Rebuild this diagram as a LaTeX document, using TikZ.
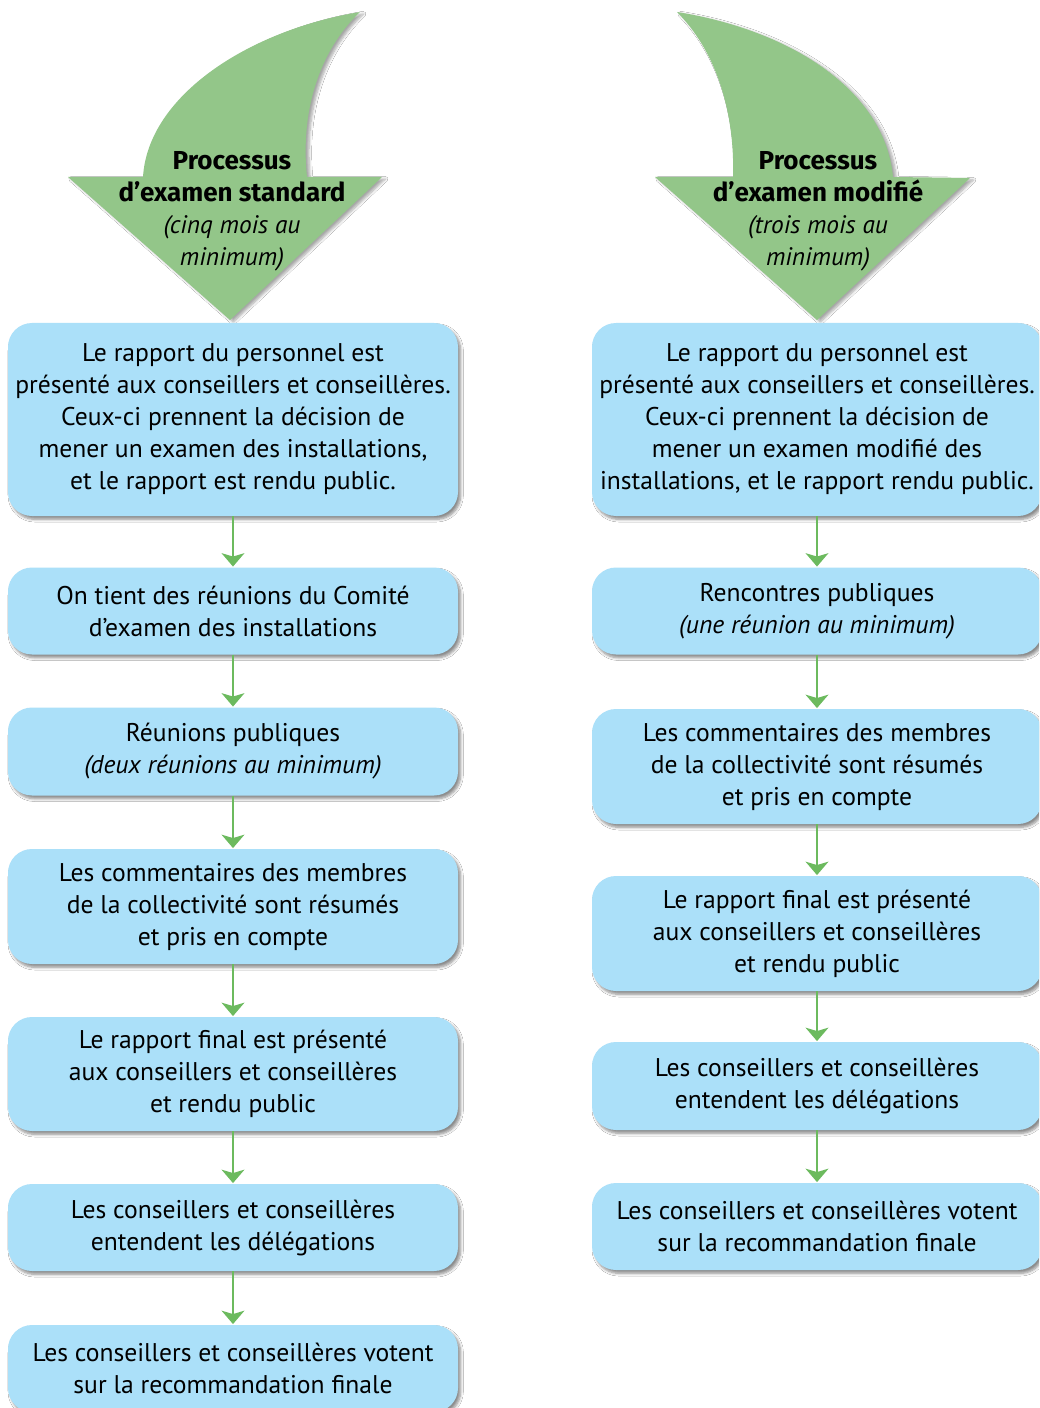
\documentclass[tikz,border=0pt]{standalone}
\usepackage{fontspec}
\setmainfont{PT Sans}
\newfontfamily\hdrfont{Fira Sans}
\usetikzlibrary{shadows.blur,arrows.meta}
\definecolor{boxblue}{RGB}{171,224,249}
\definecolor{hdrgreen}{RGB}{147,198,137}
\definecolor{lnkgreen}{RGB}{108,186,94}
\tikzset{
  stepbox/.style={rectangle, rounded corners=18pt, fill=boxblue, minimum width=337.5pt,
    inner sep=0pt, align=center, font=\fontsize{19.2}{24}\selectfont,
    blur shadow={shadow xshift=2pt, shadow yshift=-2.5pt, shadow blur steps=6, shadow opacity=45}},
  hdrshape/.style={fill=hdrgreen,
    blur shadow={shadow xshift=2.5pt, shadow yshift=-1.5pt, shadow blur steps=6, shadow opacity=35}},
  hdrtext/.style={align=center, inner sep=0pt, font=\fontsize{19}{24}\selectfont},
  conn/.style={draw=lnkgreen, line width=2pt, -{Stealth[length=10pt, width=17pt, inset=2.5pt]}, shorten >=0.5pt}
}
\newcommand{\hb}[1]{{\hdrfont\bfseries\fontsize{19.5}{24}\selectfont #1}}
\begin{document}
\begin{tikzpicture}[x=0.75pt, y=-0.75pt]
\clip (0,0) rectangle (1039,1408);
\fill[white] (0,0) rectangle (1039,1408);

% header arrows
\path[hdrshape] (68,177) -- (143,177) .. controls (148,95) and (250,30) .. (360,12)
  .. controls (320,50) and (300,110) .. (307,177) -- (382,177) -- (230,320) -- cycle;
\path[hdrshape] (655,177) -- (733,177) .. controls (735,110) and (715,50) .. (677,12)
  .. controls (790,30) and (885,90) .. (893,177) -- (970,178) -- (817,320) -- cycle;

\node[hdrtext] (hl) at (232,211) {\hb{Processus}\\\hb{d’examen standard}\\\textit{(cinq mois au}\\\textit{minimum)}};
\node[hdrtext] (hr) at (818,211) {\hb{Processus}\\\hb{d’examen modifié}\\\textit{(trois mois au}\\\textit{minimum)}};

% left column
\node[stepbox, minimum height=144.75pt] (l1) at (233,419.5) {Le rapport du personnel est\\présenté aux conseillers et conseillères.\\Ceux-ci prennent la décision de\\mener un examen des installations,\\et le rapport est rendu public.};
\node[stepbox, minimum height=65.25pt] (l2) at (233,611) {On tient des réunions du Comité\\d’examen des installations};
\node[stepbox, minimum height=66pt] (l3) at (233,751.5) {Réunions publiques\\\textit{(deux réunions au minimum)}};
\node[stepbox, minimum height=86.25pt] (l4) at (233,906.5) {Les commentaires des membres\\de la collectivité sont résumés\\et pris en compte};
\node[stepbox, minimum height=85.5pt] (l5) at (233,1074) {Le rapport final est présenté\\aux conseillers et conseillères\\et rendu public};
\node[stepbox, minimum height=65.25pt] (l6) at (233,1227.5) {Les conseillers et conseillères\\entendent les délégations};
\node[stepbox, minimum height=65.25pt] (l7) at (233,1368.5) {Les conseillers et conseillères votent\\sur la recommandation finale};

% right column
\node[stepbox, minimum height=144.75pt] (r1) at (817,419.5) {Le rapport du personnel est\\présenté aux conseillers et conseillères.\\Ceux-ci prennent la décision de\\mener un examen modifié des\\installations, et le rapport rendu public.};
\node[stepbox, minimum height=65.25pt] (r2) at (817,611) {Rencontres publiques\\\textit{(une réunion au minimum)}};
\node[stepbox, minimum height=86.25pt] (r3) at (817,766.5) {Les commentaires des membres\\de la collectivité sont résumés\\et pris en compte};
\node[stepbox, minimum height=86.25pt] (r4) at (817,933.5) {Le rapport final est présenté\\aux conseillers et conseillères\\et rendu public};
\node[stepbox, minimum height=66pt] (r5) at (817,1086) {Les conseillers et conseillères\\entendent les délégations};
\node[stepbox, minimum height=65.25pt] (r6) at (817,1226.5) {Les conseillers et conseillères votent\\sur la recommandation finale};

% connectors
\draw[conn] (l1) -- (l2);
\draw[conn] (l2) -- (l3);
\draw[conn] (l3) -- (l4);
\draw[conn] (l4) -- (l5);
\draw[conn] (l5) -- (l6);
\draw[conn] (l6) -- (l7);
\draw[conn] (r1) -- (r2);
\draw[conn] (r2) -- (r3);
\draw[conn] (r3) -- (r4);
\draw[conn] (r4) -- (r5);
\draw[conn] (r5) -- (r6);
\end{tikzpicture}
\end{document}
